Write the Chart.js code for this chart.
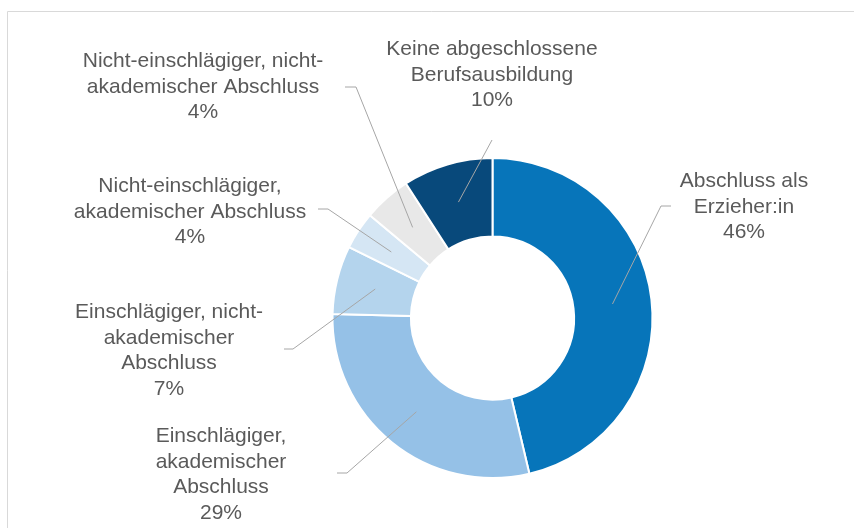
<!DOCTYPE html>
<html>
<head>
<meta charset="utf-8">
<script src="https://cdn.jsdelivr.net/npm/chart.js@4/dist/chart.umd.min.js"></script>
<style>
  html, body { margin: 0; padding: 0; background: #ffffff; }
  #wrap { position: relative; width: 854px; height: 528px; }
</style>
</head>
<body>
<div id="wrap"><canvas id="c" width="854" height="528"></canvas></div>
<script>
// ---- data ----
const categories = [
  "Abschluss als Erzieher:in",
  "Einschlägiger, akademischer Abschluss",
  "Einschlägiger, nicht-akademischer Abschluss",
  "Nicht-einschlägiger, akademischer Abschluss",
  "Nicht-einschlägiger, nicht-akademischer Abschluss",
  "Keine abgeschlossene Berufsausbildung"
];
// slice sizes as read from the drawn arcs
const values = [46.3, 29.1, 6.9, 3.8, 4.8, 9.1];
// percentages as printed in the chart's data labels
const percentLabels = ["46%", "29%", "7%", "4%", "4%", "10%"];
const labelLines = [
  ["Abschluss als", "Erzieher:in"],
  ["Einschlägiger,", "akademischer", "Abschluss"],
  ["Einschlägiger, nicht-", "akademischer", "Abschluss"],
  ["Nicht-einschlägiger,", "akademischer Abschluss"],
  ["Nicht-einschlägiger, nicht-", "akademischer Abschluss"],
  ["Keine abgeschlossene", "Berufsausbildung"]
];

// ---- styling / label layout (not data) ----
const colors = ["#0775ba", "#95c1e7", "#b4d4ed", "#d5e6f4", "#e8e8e8", "#08497b"];
// text centre x, x-height centre of first line y, stub points
const labelLayout = [
  { tx: 744, ty: 182, stub: [[671, 206], [661, 206]] },
  { tx: 221, ty: 437, stub: [[337, 473], [347, 473]] },
  { tx: 169, ty: 313, stub: [[284, 349], [293, 349]] },
  { tx: 190, ty: 187, stub: [[318, 209], [328, 209]] },
  { tx: 203, ty: 62,  stub: [[345, 87],  [356, 87]] },
  { tx: 492, ty: 50,  stub: [[492, 140]] }
];
const FONT_SIZE = 21;
const LINE_H = 25.4;
const TEXT_COLOR = "#5a5a5a";
const LEADER_COLOR = "#a6a6a6";

const labelPlugin = {
  id: "outerLabels",
  beforeDraw(chart) {
    const ctx = chart.ctx;
    ctx.save();
    ctx.strokeStyle = "#d9d9d9";
    ctx.lineWidth = 1;
    ctx.beginPath();
    ctx.moveTo(7.5, 540);
    ctx.lineTo(7.5, 11.5);
    ctx.lineTo(860, 11.5);
    ctx.stroke();
    ctx.restore();
  },
  afterDatasetsDraw(chart) {
    const ctx = chart.ctx;
    const meta = chart.getDatasetMeta(0);
    ctx.save();
    meta.data.forEach((arc, i) => {
      const p = arc.getProps(["x", "y", "startAngle", "endAngle", "innerRadius", "outerRadius"], true);
      const mid = (p.startAngle + p.endAngle) / 2;
      const r = (p.innerRadius + p.outerRadius) / 2;
      const ax = p.x + Math.cos(mid) * r;
      const ay = p.y + Math.sin(mid) * r;
      const lay = labelLayout[i];
      // leader line
      ctx.strokeStyle = LEADER_COLOR;
      ctx.lineWidth = 1;
      ctx.beginPath();
      ctx.moveTo(lay.stub[0][0], lay.stub[0][1]);
      for (let k = 1; k < lay.stub.length; k++) ctx.lineTo(lay.stub[k][0], lay.stub[k][1]);
      ctx.lineTo(ax, ay);
      ctx.stroke();
      // text
      ctx.fillStyle = TEXT_COLOR;
      ctx.font = FONT_SIZE + "px 'Liberation Sans', Arial, sans-serif";
      ctx.textAlign = "center";
      ctx.textBaseline = "alphabetic";
      const lines = labelLines[i].concat([percentLabels[i]]);
      lines.forEach((t, j) => {
        ctx.fillText(t, lay.tx, lay.ty + j * LINE_H + 0.26 * FONT_SIZE);
      });
    });
    ctx.restore();
  }
};

new Chart(document.getElementById("c"), {
  type: "doughnut",
  data: {
    labels: categories,
    datasets: [{
      data: values,
      backgroundColor: colors,
      borderColor: "#ffffff",
      borderWidth: 2,
      hoverOffset: 0
    }]
  },
  options: {
    responsive: false,
    animation: false,
    cutout: "51%",
    layout: { padding: { left: 200, right: 69, top: 157, bottom: 49 } },
    plugins: { legend: { display: false }, tooltip: { enabled: false } }
  },
  plugins: [labelPlugin]
});
</script>
</body>
</html>
